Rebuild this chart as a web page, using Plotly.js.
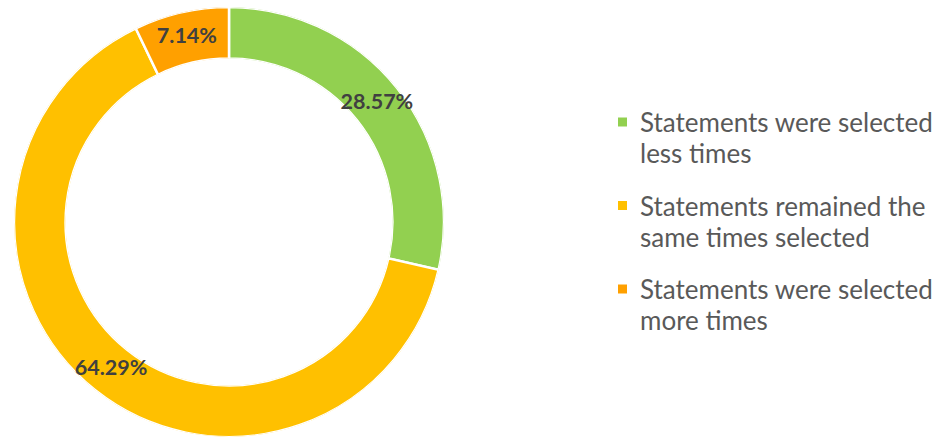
<!DOCTYPE html>
<html>
<head>
<meta charset="utf-8">
<script src="https://cdn.plot.ly/plotly-3.0.1.min.js"></script>
<style>html,body{margin:0;padding:0;background:#fff;}#chart{width:940px;height:438px;}</style>
</head>
<body>
<div id="chart"></div>
<script>
var categories = [
  "Statements were selected<br>less times",
  "Statements remained the<br>same times selected",
  "Statements were selected<br>more times"
];
var counts = [4, 9, 1];
var sliceColors = ["#92D050", "#FFC000", "#FFA000"];

var W = 940, H = 438;
var donutDomain = {x: [14 / W, 444 / W], y: [1 / H, 431 / H]};
var holeFrac = 0.76;

// slice geometry in polar coordinates, derived from the counts
var total = counts.reduce(function(a, b) { return a + b; }, 0);
var cum = 0, midAngles = [], spans = [], pctText = [], ringR = [], labelR = [];
counts.forEach(function(c) {
  midAngles.push((cum + c / 2) / total * 360);
  spans.push(c / total * 360);
  cum += c;
  pctText.push((c / total * 100).toFixed(2) + "%");
  ringR.push(1);
  labelR.push(0.5);
});

// legend drawn with annotations + shapes
var legendTextX = 638, legendMarkX = 618, markSize = 9;
var legendFirstY = 122, legendPitch = 83.5, lineGap = 31;
var annotations = [], shapes = [];
categories.forEach(function(c, i) {
  var cy = legendFirstY + legendPitch * i;
  c.split("<br>").forEach(function(line, j) {
    annotations.push({
      text: line, xref: "paper", yref: "paper",
      x: legendTextX / W, y: 1 - (cy + j * lineGap) / H,
      xanchor: "left", yanchor: "middle", align: "left",
      showarrow: false,
      font: {family: "Lato, sans-serif", size: 26, color: "#595959"}
    });
  });
  shapes.push({
    type: "rect", xref: "paper", yref: "paper",
    x0: legendMarkX / W, x1: (legendMarkX + markSize) / W,
    y0: 1 - (cy - markSize / 2) / H, y1: 1 - (cy + markSize / 2) / H,
    fillcolor: sliceColors[i], line: {width: 0}
  });
});

var ring = {
  type: "barpolar",
  r: ringR,
  theta: midAngles,
  width: spans,
  text: categories,
  marker: {color: sliceColors, line: {color: "#ffffff", width: 2.5}},
  showlegend: false,
  hoverinfo: "text"
};

var labels = {
  type: "scatterpolar",
  mode: "text",
  r: labelR,
  theta: midAngles,
  text: pctText,
  textposition: "middle center",
  textfont: {family: "Lato, sans-serif", size: 21.5, color: "#404040", weight: "bold"},
  showlegend: false,
  hoverinfo: "skip"
};

var layout = {
  width: W, height: H,
  margin: {l: 0, r: 0, t: 0, b: 0},
  paper_bgcolor: "#ffffff",
  showlegend: false,
  polar: {
    domain: donutDomain,
    hole: holeFrac,
    bgcolor: "rgba(0,0,0,0)",
    radialaxis: {visible: false, range: [0, 1], showgrid: false},
    angularaxis: {visible: false, direction: "clockwise", rotation: 90, showgrid: false},
    bargap: 0
  },
  annotations: annotations,
  shapes: shapes
};

Plotly.newPlot("chart", [ring, labels], layout, {displayModeBar: false, staticPlot: true});
</script>
</body>
</html>
